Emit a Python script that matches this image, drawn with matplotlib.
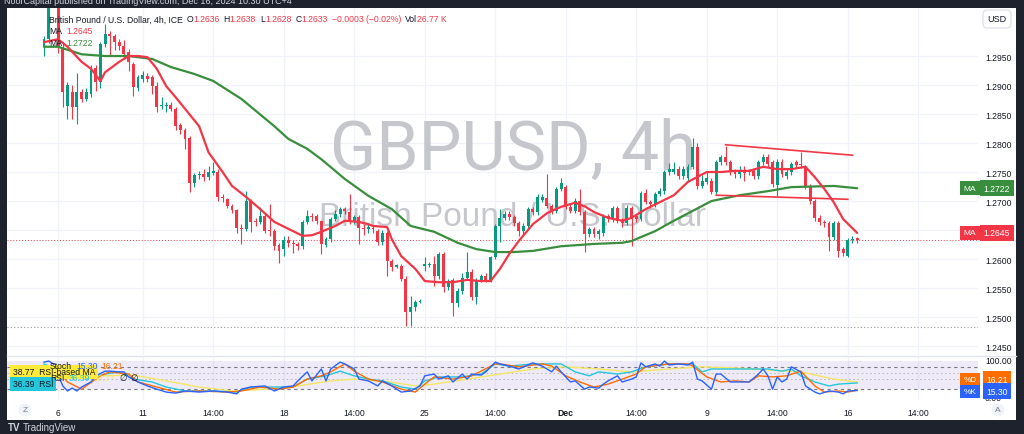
import numpy as np
import matplotlib.pyplot as plt
import matplotlib.transforms as mtransforms
from matplotlib.patches import Rectangle
from matplotlib.lines import Line2D

plt.rcParams['font.family'] = ['Liberation Sans', 'DejaVu Sans']

# ---- GBPUSD 4h candles ----
opens = [1.2966, 1.2979, 1.3045, 1.3038, 1.2966, 1.2864, 1.2888, 1.2862, 1.2888, 1.2876,
         1.2884, 1.2929, 1.2905, 1.2971, 1.2988, 1.2984, 1.2974, 1.2967, 1.2957, 1.2936,
         1.2895, 1.2910, 1.2916, 1.2914, 1.2898, 1.2864, 1.2864, 1.2866, 1.2859, 1.2831,
         1.2822, 1.2808, 1.2731, 1.2745, 1.2747, 1.2741, 1.2749, 1.2750, 1.2707, 1.2703,
         1.2691, 1.2684, 1.2654, 1.2652, 1.2700, 1.2665, 1.2663, 1.2674, 1.2650, 1.2648,
         1.2624, 1.2617, 1.2633, 1.2628, 1.2626, 1.2622, 1.2664, 1.2674, 1.2674, 1.2665,
         1.2624, 1.2634, 1.2669, 1.2678, 1.2686, 1.2681, 1.2665, 1.2672, 1.2653, 1.2651,
         1.2653, 1.2648, 1.2629, 1.2645, 1.2597, 1.2587, 1.2588, 1.2566, 1.2509, 1.2517,
         1.2526, 1.2588, 1.2590, 1.2591, 1.2571, 1.2609, 1.2552, 1.2564, 1.2524, 1.2545,
         1.2567, 1.2578, 1.2534, 1.2564, 1.2571, 1.2564, 1.2603, 1.2657, 1.2671, 1.2678,
         1.2672, 1.2662, 1.2648, 1.2657, 1.2686, 1.2681, 1.2702, 1.2705, 1.2691, 1.2683,
         1.2721, 1.2724, 1.2690, 1.2683, 1.2700, 1.2681, 1.2643, 1.2652, 1.2643, 1.2645,
         1.2674, 1.2669, 1.2688, 1.2667, 1.2662, 1.2688, 1.2674, 1.2669, 1.2714, 1.2698,
         1.2695, 1.2712, 1.2717, 1.2750, 1.2750, 1.2755, 1.2743, 1.2740, 1.2759, 1.2793,
         1.2726, 1.2733, 1.2734, 1.2716, 1.2767, 1.2776, 1.2767, 1.2750, 1.2747, 1.2752,
         1.2752, 1.2752, 1.2743, 1.2767, 1.2776, 1.2767, 1.2728, 1.2767, 1.2743, 1.2750,
         1.2767, 1.2764, 1.2757, 1.2726, 1.2700, 1.2671, 1.2664, 1.2662, 1.2638, 1.2662,
         1.2617, 1.2605, 1.2633, 1.2636]
highs = [1.2985, 1.3055, 1.3060, 1.3048, 1.2975, 1.2905, 1.2900, 1.2920, 1.2893, 1.2895,
         1.2935, 1.2935, 1.2975, 1.3005, 1.2993, 1.2988, 1.2980, 1.2978, 1.2962, 1.2940,
         1.2918, 1.2924, 1.2920, 1.2918, 1.2905, 1.2880, 1.2870, 1.2870, 1.2862, 1.2835,
         1.2826, 1.2812, 1.2748, 1.2752, 1.2755, 1.2760, 1.2767, 1.2755, 1.2712, 1.2706,
         1.2695, 1.2687, 1.2660, 1.2717, 1.2704, 1.2670, 1.2690, 1.2680, 1.2695, 1.2652,
         1.2628, 1.2640, 1.2640, 1.2632, 1.2630, 1.2668, 1.2684, 1.2680, 1.2678, 1.2668,
         1.2638, 1.2672, 1.2685, 1.2690, 1.2690, 1.2712, 1.2676, 1.2676, 1.2660, 1.2660,
         1.2658, 1.2652, 1.2650, 1.2648, 1.2600, 1.2592, 1.2592, 1.2570, 1.2536, 1.2530,
         1.2531, 1.2603, 1.2595, 1.2605, 1.2612, 1.2612, 1.2566, 1.2568, 1.2550, 1.2576,
         1.2612, 1.2582, 1.2568, 1.2575, 1.2576, 1.2606, 1.2660, 1.2686, 1.2683, 1.2682,
         1.2676, 1.2665, 1.2662, 1.2690, 1.2690, 1.2712, 1.2712, 1.2747, 1.2695, 1.2725,
         1.2740, 1.2728, 1.2694, 1.2705, 1.2721, 1.2684, 1.2656, 1.2656, 1.2652, 1.2678,
         1.2678, 1.2692, 1.2692, 1.2670, 1.2693, 1.2692, 1.2678, 1.2718, 1.2720, 1.2702,
         1.2716, 1.2722, 1.2754, 1.2765, 1.2768, 1.2760, 1.2760, 1.2763, 1.2809, 1.2800,
         1.2745, 1.2752, 1.2740, 1.2770, 1.2780, 1.2795, 1.2771, 1.2755, 1.2760, 1.2760,
         1.2756, 1.2757, 1.2771, 1.2781, 1.2781, 1.2771, 1.2772, 1.2772, 1.2755, 1.2768,
         1.2771, 1.2784, 1.2762, 1.2730, 1.2704, 1.2676, 1.2668, 1.2666, 1.2666, 1.2666,
         1.2621, 1.2637, 1.2640, 1.2638]
lows = [1.2950, 1.2972, 1.3036, 1.2955, 1.2862, 1.2841, 1.2841, 1.2833, 1.2870, 1.2872,
        1.2880, 1.2890, 1.2895, 1.2965, 1.2950, 1.2960, 1.2960, 1.2945, 1.2925, 1.2881,
        1.2890, 1.2905, 1.2905, 1.2884, 1.2853, 1.2858, 1.2853, 1.2855, 1.2822, 1.2815,
        1.2790, 1.2716, 1.2725, 1.2738, 1.2735, 1.2736, 1.2745, 1.2700, 1.2698, 1.2688,
        1.2679, 1.2645, 1.2626, 1.2648, 1.2647, 1.2657, 1.2660, 1.2645, 1.2640, 1.2615,
        1.2593, 1.2605, 1.2620, 1.2610, 1.2615, 1.2618, 1.2660, 1.2665, 1.2660, 1.2609,
        1.2620, 1.2630, 1.2665, 1.2672, 1.2678, 1.2660, 1.2660, 1.2626, 1.2642, 1.2645,
        1.2645, 1.2625, 1.2625, 1.2571, 1.2580, 1.2584, 1.2562, 1.2484, 1.2484, 1.2510,
        1.2524, 1.2579, 1.2586, 1.2553, 1.2566, 1.2543, 1.2547, 1.2502, 1.2518, 1.2540,
        1.2563, 1.2530, 1.2522, 1.2560, 1.2560, 1.2560, 1.2600, 1.2629, 1.2667, 1.2668,
        1.2657, 1.2640, 1.2643, 1.2652, 1.2676, 1.2676, 1.2698, 1.2688, 1.2678, 1.2679,
        1.2717, 1.2686, 1.2679, 1.2679, 1.2676, 1.2612, 1.2638, 1.2638, 1.2635, 1.2640,
        1.2664, 1.2664, 1.2662, 1.2656, 1.2658, 1.2622, 1.2664, 1.2665, 1.2695, 1.2688,
        1.2690, 1.2708, 1.2712, 1.2745, 1.2746, 1.2738, 1.2738, 1.2735, 1.2755, 1.2720,
        1.2722, 1.2730, 1.2712, 1.2712, 1.2762, 1.2762, 1.2745, 1.2740, 1.2740, 1.2735,
        1.2744, 1.2738, 1.2738, 1.2762, 1.2758, 1.2724, 1.2709, 1.2742, 1.2738, 1.2745,
        1.2757, 1.2757, 1.2720, 1.2695, 1.2666, 1.2659, 1.2656, 1.2614, 1.2633, 1.2603,
        1.2605, 1.2603, 1.2628, 1.2628]
closes = [1.2979, 1.3040, 1.3038, 1.2966, 1.2888, 1.2900, 1.2862, 1.2888, 1.2876, 1.2888,
          1.2929, 1.2905, 1.2971, 1.2988, 1.2984, 1.2974, 1.2967, 1.2953, 1.2940, 1.2897,
          1.2914, 1.2917, 1.2910, 1.2898, 1.2862, 1.2866, 1.2866, 1.2859, 1.2829, 1.2822,
          1.2807, 1.2731, 1.2745, 1.2747, 1.2741, 1.2750, 1.2751, 1.2707, 1.2705, 1.2691,
          1.2684, 1.2653, 1.2652, 1.2700, 1.2664, 1.2663, 1.2674, 1.2648, 1.2648, 1.2622,
          1.2614, 1.2633, 1.2628, 1.2626, 1.2622, 1.2664, 1.2674, 1.2672, 1.2665, 1.2626,
          1.2634, 1.2669, 1.2678, 1.2686, 1.2683, 1.2665, 1.2672, 1.2653, 1.2651, 1.2655,
          1.2651, 1.2629, 1.2645, 1.2597, 1.2586, 1.2589, 1.2566, 1.2509, 1.2517, 1.2526,
          1.2528, 1.2591, 1.2592, 1.2571, 1.2609, 1.2552, 1.2562, 1.2524, 1.2545, 1.2567,
          1.2578, 1.2534, 1.2564, 1.2571, 1.2564, 1.2603, 1.2657, 1.2671, 1.2678, 1.2672,
          1.2662, 1.2648, 1.2657, 1.2686, 1.2681, 1.2707, 1.2707, 1.2691, 1.2683, 1.2721,
          1.2731, 1.2690, 1.2683, 1.2700, 1.2681, 1.2643, 1.2652, 1.2643, 1.2648, 1.2674,
          1.2669, 1.2688, 1.2666, 1.2662, 1.2688, 1.2669, 1.2669, 1.2714, 1.2698, 1.2695,
          1.2712, 1.2717, 1.2750, 1.2755, 1.2755, 1.2743, 1.2755, 1.2759, 1.2793, 1.2726,
          1.2734, 1.2740, 1.2716, 1.2767, 1.2776, 1.2767, 1.2750, 1.2747, 1.2752, 1.2748,
          1.2750, 1.2743, 1.2767, 1.2776, 1.2764, 1.2729, 1.2767, 1.2747, 1.2750, 1.2764,
          1.2762, 1.2762, 1.2726, 1.2700, 1.2671, 1.2664, 1.2662, 1.2638, 1.2662, 1.2614,
          1.2610, 1.2633, 1.2635, 1.2633]

# moving averages (bar index, value) as drawn on the chart
ma_fast_idx = [0, 3, 5, 8, 10, 12, 13, 16, 18, 20, 22, 24, 26, 28, 30, 33, 35, 38, 40, 43,
               46, 49, 52, 55, 57, 59, 62, 64, 67, 69, 70, 73, 74, 76, 79, 81, 84, 87, 90, 93,
               95, 97, 99, 101, 104, 107, 110, 113, 115, 117, 120, 123, 125, 128, 131, 134,
               137, 141, 144, 147, 150, 153, 156, 159, 162, 164, 166, 168, 170, 173]
ma_fast = [1.2974, 1.2979, 1.2966, 1.2940, 1.2928, 1.2907, 1.2922, 1.2940, 1.2950, 1.2950,
           1.2948, 1.2928, 1.2898, 1.2879, 1.2859, 1.2829, 1.2784, 1.2750, 1.2726, 1.2707,
           1.2686, 1.2664, 1.2652, 1.2640, 1.2641, 1.2647, 1.2657, 1.2666, 1.2664, 1.2660,
           1.2657, 1.2655, 1.2634, 1.2605, 1.2583, 1.2562, 1.2560, 1.2560, 1.2564, 1.2562,
           1.2562, 1.2583, 1.2609, 1.2631, 1.2660, 1.2679, 1.2690, 1.2697, 1.2691, 1.2681,
           1.2671, 1.2666, 1.2671, 1.2686, 1.2698, 1.2710, 1.2733, 1.2750, 1.2750, 1.2752,
           1.2752, 1.2759, 1.2755, 1.2755, 1.2759, 1.2741, 1.2721, 1.2698, 1.2669, 1.2645]
ma_slow_idx = [0, 3, 8, 13, 18, 23, 27, 32, 36, 42, 49, 52, 56, 59, 64, 69, 74, 78, 83, 88,
               92, 96, 100, 104, 110, 117, 123, 125, 130, 134, 138, 142, 148, 154, 159, 168,
               173]
ma_slow = [1.2966, 1.2966, 1.2953, 1.2950, 1.2950, 1.2945, 1.2931, 1.2919, 1.2907, 1.2876,
           1.2829, 1.2807, 1.2790, 1.2772, 1.2738, 1.2709, 1.2686, 1.2657, 1.2647, 1.2628,
           1.2617, 1.2612, 1.2612, 1.2614, 1.2622, 1.2626, 1.2628, 1.2631, 1.2648, 1.2666,
           1.2683, 1.2700, 1.2710, 1.2717, 1.2724, 1.2726, 1.2722]

# drawn trend lines: (bar index pair, price pair)
upper_line_idx, upper_line = [145, 172], [1.2797, 1.2779]
lower_line_idx, lower_line = [143, 171], [1.2710, 1.2703]
last_price = 1.2633
marked_level = 1.2482

# oscillators
stoch_k_idx = [0, 1, 2, 4, 5, 6, 7, 8, 10, 11, 13, 14, 16, 17, 18, 20, 22, 24, 26, 28, 30, 33,
               36, 39, 41, 42, 44, 47, 49, 51, 53, 54, 56, 57, 59, 60, 61, 63, 64, 66, 67, 69,
               71, 72, 74, 76, 78, 80, 81, 83, 84, 86, 87, 89, 90, 91, 93, 94, 96, 97, 99, 101,
               104, 106, 108, 109, 110, 112, 113, 115, 116, 118, 119, 120, 122, 123, 125, 126,
               127, 128, 130, 131, 132, 133, 135, 137, 138, 139, 140, 142, 143, 144, 146, 148,
               150, 152, 153, 154, 155, 156, 157, 158, 159, 161, 162, 164, 165, 167, 169, 170,
               171, 173]
stoch_k = [94, 97, 89, 28, 14, 22, 14, 25, 39, 56, 69, 69, 67, 67, 53, 39, 28, 19, 11, 8, 14, 11,
           14, 11, 6, 19, 25, 28, 14, 25, 28, 42, 67, 42, 75, 42, 75, 94, 89, 75, 47, 42,
           28, 42, 28, 11, 14, 28, 56, 61, 47, 56, 39, 61, 47, 61, 58, 67, 94, 89, 83, 75,
           92, 83, 67, 83, 67, 39, 42, 19, 25, 22, 33, 42, 56, 39, 47, 53,
           92, 81, 89, 83, 97, 86, 89, 86, 94, 47, 42, 19, 61, 61, 39, 39,
           39, 61, 75, 56, 19, 53, 39, 47, 81, 67, 28, 11, 6, 14, 11, 6,
           14, 15.30]
stoch_d_idx = [0, 3, 5, 8, 12, 14, 18, 20, 24, 28, 33, 39, 42, 46, 50, 53, 56, 59, 61, 64, 66,
               69, 72, 76, 79, 81, 83, 87, 91, 96, 97, 101, 106, 108, 111, 114, 117, 120, 123,
               126, 128, 133, 137, 138, 141, 144, 147, 150, 152, 155, 158, 161, 164, 166, 169,
               171, 173]
stoch_d = [81, 69, 39, 19, 56, 67, 61, 39, 25, 11, 14, 11, 14, 25, 19, 25, 47, 56, 67, 89, 69,
           47, 39, 19, 11, 33, 53, 47, 56, 89, 89, 81, 89, 83, 56, 39, 25, 33, 47,
           61, 81, 89, 89, 83, 53, 39, 42, 39, 56, 53, 56, 69, 28, 11, 14,
           11, 16.21]
rsi_idx = [0, 5, 9, 13, 16, 19, 23, 26, 30, 36, 41, 44, 49, 53, 56, 60, 63, 66, 69, 72, 76, 79,
           81, 84, 89, 93, 96, 99, 104, 110, 113, 116, 118, 122, 125, 128, 133, 138, 140, 142,
           147, 151, 154, 157, 159, 161, 164, 167, 169, 173]
rsi = [89, 61, 47, 61, 67, 47, 39, 25, 14, 14, 11, 25, 25, 25, 47, 56, 69, 56, 47, 42, 25, 19,
       42, 53, 53, 61, 89, 83, 89, 89, 67, 56, 67, 61, 67, 81, 89, 89, 67, 75,
       75, 75, 75, 69, 75, 56, 39, 28, 33, 36.39]
rsi_ma_idx = [12, 19, 26, 33, 40, 47, 54, 61, 66, 72, 79, 83, 90, 97, 104, 111, 118, 125, 133,
              140, 147, 154, 161, 168, 173]
rsi_ma = [56, 58, 42, 25, 14, 19, 28, 42, 47, 42, 28, 33, 47, 61, 75, 81, 75, 67, 75,
          81, 78, 72, 67, 47, 38.77]

time_idx = [3, 21, 36, 51, 66, 81, 96, 111, 126, 141, 156, 171, 186]
time_labels = ['6', '11', '14:00', '18', '14:00', '25', '14:00', 'Dec', '14:00', '9', '14:00',
               '16', '14:00']
price_ticks = [1.2450, 1.2500, 1.2550, 1.2600, 1.2650, 1.2700, 1.2750, 1.2800, 1.2850,
               1.2900, 1.2950]

UP, DOWN = '#089981', '#f23645'
GREEN_MA = '#388e3c'
K_COL, D_COL, RSI_COL, RSIMA_COL = '#2962ff', '#ff6d00', '#26c6da', '#f5e663'
TXT = '#131722'
GRID = '#f0f3fa'
AXFS = 6.2
LFS = 6.2

W, H = 1024, 435
fig = plt.figure(figsize=(W / 100, H / 100), dpi=100)
fig.patch.set_facecolor('#1e222d')


def fx(px):
    return px / W


def fy(py):
    return 1 - py / H


fig.patches.append(Rectangle((fx(7), fy(421)), fx(1016) - fx(7), fy(9) - fy(421),
                             transform=fig.transFigure, facecolor='white',
                             edgecolor='none', zorder=-5))

ax = fig.add_axes([fx(7), fy(356), fx(978) - fx(7), fy(9) - fy(356)])
axo = fig.add_axes([fx(7), fy(401), fx(978) - fx(7), fy(357) - fy(401)])
xlim = (-7.87, 198.7)

for a in (ax, axo):
    a.set_facecolor('none')
    a.set_xlim(*xlim)
    for s in a.spines.values():
        s.set_visible(False)
    for t in time_idx:
        a.axvline(t, color=GRID, lw=0.9, zorder=0)

# ---- price pane ----
ax.set_ylim(1.24345, 1.30328)
for p in price_ticks:
    ax.axhline(p, color=GRID, lw=0.9, zorder=0)
ax.yaxis.tick_right()
ax.set_yticks(price_ticks)
ax.set_yticklabels([f'{p:.4f}' for p in price_ticks])
ax.tick_params(axis='y', length=0, pad=5, labelsize=AXFS, labelcolor=TXT)
ax.set_xticks([])

ax.text(0.521, 0.592, 'GBPUSD, 4h', transform=ax.transAxes, ha='center', va='center',
        fontsize=49, color='#c5c7cc', zorder=1, family=['Roboto', 'DejaVu Sans'])
ax.text(0.521, 0.398, 'British Pound / U.S. Dollar', transform=ax.transAxes,
        ha='center', va='center', fontsize=24, color='#c5c7cc', zorder=1)

o = np.array(opens)
c = np.array(closes)
hi = np.array(highs)
lo = np.array(lows)
idx = np.arange(len(c))
cols = np.where(c >= o, UP, DOWN)
ax.vlines(idx, lo, hi, colors=cols, lw=0.8, zorder=3)
body = np.maximum(np.abs(c - o), 0.00012)
ax.bar(idx, body, bottom=np.minimum(o, c), width=0.62, color=cols, linewidth=0, zorder=4)

ax.plot(ma_slow_idx, ma_slow, color=GREEN_MA, lw=1.6, zorder=5, solid_capstyle='round')
ax.plot(ma_fast_idx, ma_fast, color=DOWN, lw=1.6, zorder=6, solid_capstyle='round')
ax.plot(upper_line_idx, upper_line, color=DOWN, lw=1.2, zorder=6)
ax.plot(lower_line_idx, lower_line, color=DOWN, lw=1.2, zorder=6)
ax.axhline(last_price, color=DOWN, lw=0.7, ls=(0, (1, 2)), zorder=2)
ax.axhline(marked_level, color='#9598a1', lw=0.8, ls=(0, (1, 2)), zorder=2)

# ---- oscillator pane ----
axo.set_ylim(-11, 111)
axo.axhspan(19, 97, color='#7e57c2', alpha=0.12, lw=0, zorder=0)
for lvl in (80, 19):
    axo.axhline(lvl, color='#787b86', lw=0.8, ls=(0, (3, 3)), zorder=1)
for lvl in (64, 47):
    axo.axhline(lvl, color='#b2b5be', lw=0.6, ls=(0, (2, 3)), zorder=1)
axo.plot(rsi_ma_idx, rsi_ma, color=RSIMA_COL, lw=1, zorder=2)
axo.plot(rsi_idx, rsi, color=RSI_COL, lw=1, zorder=3)
axo.plot(stoch_d_idx, stoch_d, color=D_COL, lw=1, zorder=4)
axo.plot(stoch_k_idx, stoch_k, color=K_COL, lw=1, zorder=5)
axo.yaxis.tick_right()
axo.set_yticks([100, 0])
axo.set_yticklabels(['100.00', '0.00'])
axo.tick_params(axis='y', length=0, pad=5, labelsize=AXFS, labelcolor=TXT)
axo.set_xticks(time_idx)
axo.set_xticklabels(time_labels)
axo.tick_params(axis='x', length=0, pad=6, labelsize=AXFS, labelcolor=TXT)
for lab in axo.get_xticklabels():
    if lab.get_text() == 'Dec':
        lab.set_fontweight('bold')

# pane separator
fig.add_artist(Line2D([fx(7), fx(1016)], [fy(356.5), fy(356.5)], color='#e0e3eb', lw=1))

# ---- right axis value labels ----
tp = mtransforms.blended_transform_factory(fig.transFigure, ax.transData)
to = mtransforms.blended_transform_factory(fig.transFigure, axo.transData)


def tag(tr, y, name, value, col):
    fig.text(fx(970), y, name, transform=tr, ha='center', va='center', fontsize=6,
             color='white', zorder=10,
             bbox=dict(boxstyle='square,pad=0.4', fc=col, ec='none'))
    fig.text(fx(997), y, value, transform=tr, ha='center', va='center', fontsize=AXFS,
             color='white', zorder=10,
             bbox=dict(boxstyle='square,pad=0.4', fc=col, ec='none'))


tag(tp, ma_slow[-1], 'MA', f'{ma_slow[-1]:.4f}', GREEN_MA)
tag(tp, ma_fast[-1], 'MA', f'{ma_fast[-1]:.4f}', DOWN)
tag(to, 46, '%D', f'{stoch_d[-1]:.2f}', D_COL)
tag(to, 13, '%K', f'{stoch_k[-1]:.2f}', K_COL)

# ---- legends (pieces chained left to right) ----
renderer = fig.canvas.get_renderer()


def chain(x0, y, pieces, fs=LFS, gap=4, **kw):
    x = x0
    for s, col in pieces:
        if s == '':
            x += gap
            continue
        t = fig.text(fx(x), fy(y), s, color=col, fontsize=fs, va='center', **kw)
        bb = t.get_window_extent(renderer)
        x += bb.width
    return x


fig.text(fx(4), fy(2), 'NoorCapital published on TradingView.com, Dec 16, 2024 10:30 UTC+4',
         color='#d1d4dc', fontsize=6.5, va='center')
chain(49, 20, [('British Pound / U.S. Dollar, 4h, ICE', TXT), ('', None),
               ('O', TXT), (f'{opens[-1]:.4f}', DOWN), ('', None),
               ('H', TXT), (f'{highs[-1]:.4f}', DOWN), ('', None),
               ('L', TXT), (f'{lows[-1]:.4f}', DOWN), ('', None),
               ('C', TXT), (f'{closes[-1]:.4f}', DOWN), ('', None),
               ('\u22120.0003 (\u22120.02%)', DOWN), ('', None),
               ('Vol', TXT), ('26.77 K', DOWN)])
chain(49, 32, [('MA', TXT), ('', None), (f'{ma_fast[-1]:.4f}', DOWN)])
chain(49, 44, [('MA', TXT), ('', None), (f'{ma_slow[-1]:.4f}', GREEN_MA)])

fig.text(fx(13), fy(373), f'{rsi_ma[-1]:.2f}  RSI-based MA', color=TXT, fontsize=LFS,
         va='center', zorder=8, bbox=dict(boxstyle='square,pad=0.3', fc='#ffeb3b', ec='none'))
fig.text(fx(13), fy(385), f'{rsi[-1]:.2f}  RSI', color=TXT, fontsize=LFS, zorder=8,
         va='center', bbox=dict(boxstyle='square,pad=0.3', fc='#26c6da', ec='none'))
chain(50, 367, [('Stoch', TXT), ('', None), (f'{stoch_k[-1]:.2f}', K_COL), ('', None),
                (f'{stoch_d[-1]:.2f}', D_COL)], zorder=9)
chain(50, 379, [('RSI', TXT), ('', None), (f'{rsi[-1]:.2f}', RSI_COL), ('', None),
                (f'{rsi_ma[-1]:.2f}', RSIMA_COL), ('', None), ('\u2205', TXT), ('', None),
                ('\u2205', TXT)], zorder=9)

# buttons
fig.text(fx(997), fy(20), 'USD', color=TXT, fontsize=6.5, ha='center', va='center',
         bbox=dict(boxstyle='round,pad=0.5', fc='white', ec='#e0e3eb'))
for bx, s in ((25, 'Z'), (998, 'A')):
    fig.text(fx(bx), fy(411), s, color='#787b86', fontsize=6, ha='center', va='center',
             bbox=dict(boxstyle='circle,pad=0.35', fc='#f0f3fa', ec='none'))
fig.text(fx(8), fy(428), 'TV', color='#d1d4dc', fontsize=7, fontweight='bold', va='center')
fig.text(fx(23), fy(428), 'TradingView', color='#d1d4dc', fontsize=7, va='center')

fig.savefig('out.png', dpi=100, facecolor=fig.get_facecolor())
